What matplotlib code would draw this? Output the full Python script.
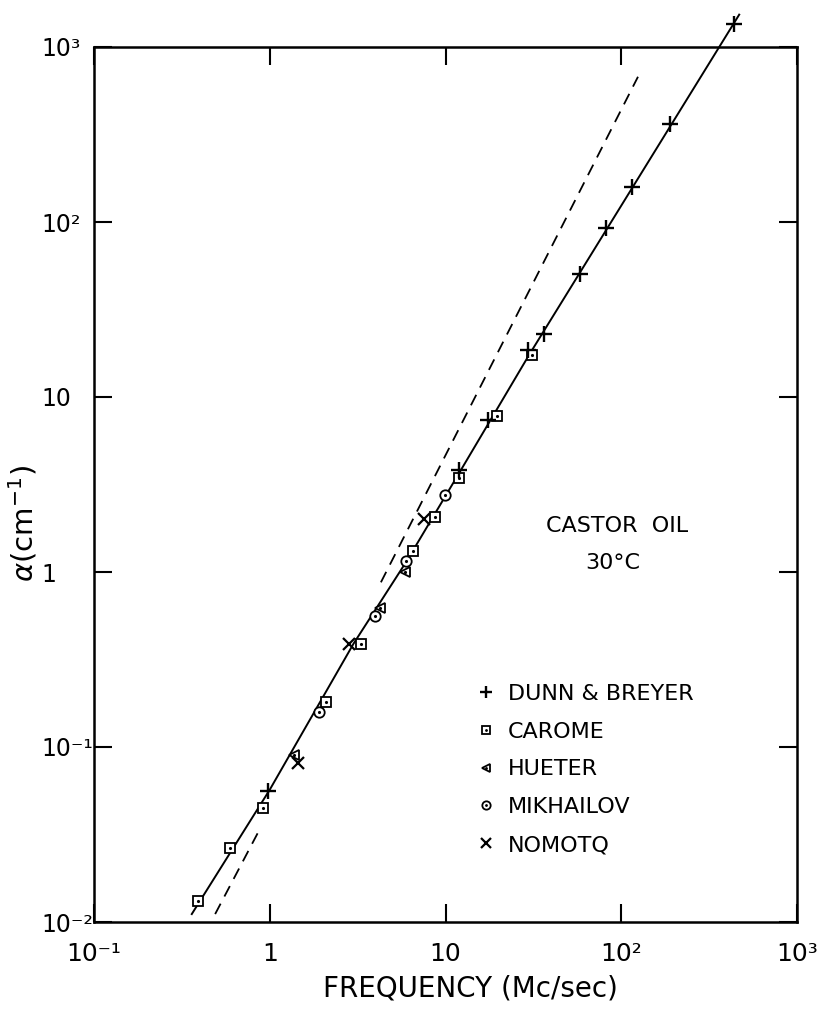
import matplotlib
matplotlib.use("Agg")
import matplotlib.pyplot as plt
from matplotlib.ticker import NullLocator

# data (frequency in Mc/sec, alpha in cm^-1)
dunn_f = [0.98, 12.0, 17.5, 29.5, 36.3, 58.3, 81.7, 115, 190.5, 438]
dunn_a = [0.0564, 3.85, 7.4, 18.6, 23.0, 50.7, 92.2, 158, 362, 1361]

carome_f = [0.39, 0.595, 0.91, 2.08, 3.3, 6.5, 8.72, 12.0, 19.7, 31.1]
carome_a = [0.0132, 0.0265, 0.0448, 0.181, 0.386, 1.32, 2.05, 3.43, 7.8, 17.3]

hueter_f = [1.38, 4.25, 5.88]
hueter_a = [0.09, 0.624, 1.0]

mikh_f = [1.9, 3.96, 5.96, 9.9]
mikh_a = [0.159, 0.564, 1.15, 2.75]

nomoto_f = [1.45, 2.83, 7.5]
nomoto_a = [0.081, 0.386, 2.0]

# drawn curve through the data
curve_f = [0.36, 1.0, 3.0, 6.0, 12.0, 30.0, 469]
curve_a = [0.0111, 0.057, 0.39, 1.15, 3.7, 17.5, 1531]

# dashed line (two pieces)
dash1_f = [0.489, 0.865]
dash1_a = [0.0111, 0.033]
dash2_f = [4.29, 124.5]
dash2_a = [0.873, 676]

xticks = [0.1, 1, 10, 100, 1000]
xlabels = ["10⁻¹", "1", "10", "10²", "10³"]
yticks = [0.01, 0.1, 1, 10, 100, 1000]
ylabels = ["10⁻²", "10⁻¹", "1", "10", "10²", "10³"]

fig = plt.figure(figsize=(8.3, 10.09), dpi=100)
ax = fig.add_axes([94 / 830, 1 - 922 / 1009, 703 / 830, 875 / 1009])
ax.set_xscale("log")
ax.set_yscale("log")
ax.set_xlim(0.1, 1000)
ax.set_ylim(0.01, 1000)

ax.plot(curve_f, curve_a, color="black", lw=1.4, clip_on=False, zorder=2)
ax.plot(dash1_f, dash1_a, color="black", lw=1.3, dashes=(6.5, 4.5))
ax.plot(dash2_f, dash2_a, color="black", lw=1.3, dashes=(6.5, 4.5))

h_plus, = ax.plot(dunn_f, dunn_a, ls="none", marker="+", ms=11, mew=1.7,
                  color="black", clip_on=False, zorder=4)
h_sq, = ax.plot(carome_f, carome_a, ls="none", marker="s", ms=7.5, mew=1.3,
                mfc="white", mec="black", zorder=3)
h_sqd, = ax.plot(carome_f, carome_a, ls="none", marker=".", ms=2.5,
                 color="black", zorder=3)
h_tri, = ax.plot(hueter_f, hueter_a, ls="none", marker="<", ms=7.5, mew=1.3,
                 mfc="white", mec="black", zorder=3)
h_trid, = ax.plot(hueter_f, hueter_a, ls="none", marker=".", ms=2.5,
                  color="black", zorder=3)
h_circ, = ax.plot(mikh_f, mikh_a, ls="none", marker="o", ms=7.5, mew=1.3,
                  mfc="white", mec="black", zorder=3)
h_circd, = ax.plot(mikh_f, mikh_a, ls="none", marker=".", ms=2.5,
                   color="black", zorder=3)
h_x, = ax.plot(nomoto_f, nomoto_a, ls="none", marker="x", ms=9, mew=1.6,
               color="black", zorder=4)

for sp in ax.spines.values():
    sp.set_linewidth(1.8)

ax.set_xticks(xticks)
ax.set_xticklabels(xlabels)
ax.set_yticks(yticks)
ax.set_yticklabels(ylabels)
ax.xaxis.set_minor_locator(NullLocator())
ax.yaxis.set_minor_locator(NullLocator())
ax.tick_params(which="major", direction="in", top=True, right=True,
               length=13, width=1.5)
ax.tick_params(axis="x", pad=28, labelsize=18)
ax.tick_params(axis="y", pad=38, labelsize=17)
plt.setp(ax.get_xticklabels(), va="baseline")
plt.setp(ax.get_yticklabels(), ha="left")

ax.set_xlabel("FREQUENCY (Mc/sec)", fontsize=20)
ax.xaxis.set_label_coords(0.535, -0.06)
ax.set_ylabel(r"$\alpha$(cm$^{-1}$)", fontsize=21)
ax.yaxis.set_label_coords(-0.078, 0.455)

fig.text(616.7 / 830, 1 - 526 / 1009, "CASTOR  OIL", fontsize=16,
         ha="center", va="center")
fig.text(613 / 830, 1 - 563 / 1009, "30°C", fontsize=16,
         ha="center", va="center")

handles = [h_plus, (h_sq, h_sqd), (h_tri, h_trid), (h_circ, h_circd), h_x]
names = ["DUNN & BREYER", "CAROME", "HUETER", "MIKHAILOV", "NOMOTQ"]
leg = ax.legend(handles, names, loc="upper left",
                bbox_to_anchor=(466 / 830, 1 - 675 / 1009),
                bbox_transform=fig.transFigure, frameon=False, fontsize=16,
                handlelength=1.0, handletextpad=0.5, labelspacing=0.8,
                borderaxespad=0, markerscale=0.8)

fig.savefig("out.png", dpi=100)
